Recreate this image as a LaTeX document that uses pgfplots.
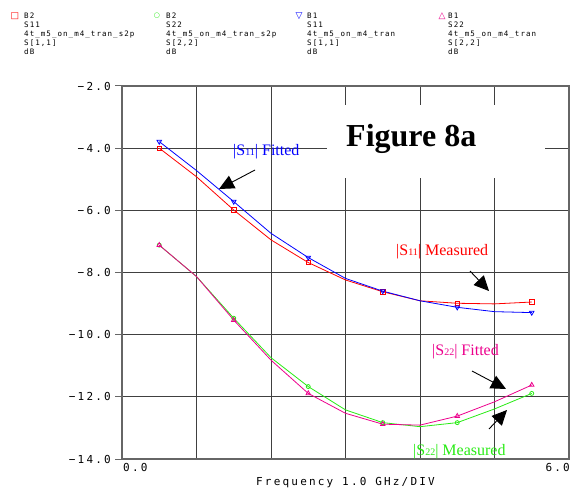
\documentclass[border=0pt]{standalone}
\usepackage{fontspec}
\usepackage{pgfplots}
\pgfplotsset{compat=1.18}
\usetikzlibrary{arrows.meta}
\setmainfont{Liberation Serif}
\newfontfamily\monof[LetterSpace=20]{DejaVu Sans Mono}
\newfontfamily\legf[LetterSpace=14]{DejaVu Sans Mono}
\newfontfamily\symf{DejaVu Sans}
\definecolor{lime}{RGB}{40,235,20}
\newcommand{\sub}[1]{{\fontsize{10}{10}\selectfont #1}}
\begin{document}
\begin{tikzpicture}[x=1pt,y=1pt]
\begin{axis}[
  at={(122pt,31pt)}, anchor=south west,
  scale only axis, width=447pt, height=373pt,
  xmin=0, xmax=6, ymin=-14, ymax=-2,
  xtick={0,1,...,6}, xticklabels={},
  ytick={-14,-12,...,-2},
  yticklabels={−14.0,−12.0,−10.0,−8.0,−6.0,−4.0,−2.0},
  yticklabel style={font=\monof\fontsize{11}{12}\selectfont, inner sep=0pt, anchor=east, xshift=-4pt},
  tick align=outside, tick pos=left,
  xtick style={draw=none},
  major tick length=7pt,
  ytick style={black!60, line width=1pt},
  grid=major, major grid style={black!75, line width=0.9pt},
  axis line style={black!60, line width=1.5pt},
]
\addplot[red, line width=0.8pt, mark=square, mark size=2.2pt, mark repeat=2, mark phase=1] coordinates {
 (0.5,-4.00) (1.0,-4.92) (1.5,-5.99) (2.0,-6.95) (2.5,-7.68) (3.0,-8.24)
 (3.5,-8.62) (4.0,-8.91) (4.5,-8.99) (5.0,-9.01) (5.5,-8.95)};
\addplot[blue, line width=0.8pt, mark=triangle, mark size=2.6pt, mark options={rotate=180}, mark repeat=2, mark phase=1] coordinates {
 (0.5,-3.79) (1.0,-4.72) (1.5,-5.72) (2.0,-6.74) (2.5,-7.52) (3.0,-8.19)
 (3.5,-8.60) (4.0,-8.91) (4.5,-9.12) (5.0,-9.26) (5.5,-9.29)};
\addplot[lime, line width=0.8pt, mark=o, mark size=2pt, mark repeat=2, mark phase=1] coordinates {
 (0.5,-7.12) (1.0,-8.13) (1.5,-9.47) (2.0,-10.74) (2.5,-11.67) (3.0,-12.42)
 (3.5,-12.83) (4.0,-12.96) (4.5,-12.83) (5.0,-12.39) (5.5,-11.89)};
\addplot[magenta, line width=0.8pt, mark=triangle, mark size=2.6pt, mark repeat=2, mark phase=1] coordinates {
 (0.5,-7.12) (1.0,-8.13) (1.5,-9.53) (2.0,-10.82) (2.5,-11.89) (3.0,-12.53)
 (3.5,-12.88) (4.0,-12.91) (4.5,-12.62) (5.0,-12.16) (5.5,-11.62)};
\end{axis}
% x tick labels
\node[anchor=north west, inner sep=0pt, font=\monof\fontsize{11}{12}\selectfont] at (123,27) {0.0};
\node[anchor=north east, inner sep=0pt, font=\monof\fontsize{11}{12}\selectfont] at (570,27) {6.0};
% white box behind title
\fill[white] (327,312) rectangle (545,385);
\node[anchor=base west, inner sep=0pt, font=\fontsize{32}{36}\selectfont\bfseries] at (346,343) {Figure 8a};
% annotations
\node[anchor=base west, inner sep=0pt, blue, font=\fontsize{16}{18}\selectfont] at (233,334) {|S\sub{11}| Fitted};
\node[anchor=base west, inner sep=0pt, red, font=\fontsize{16}{18}\selectfont] at (396,234) {|S\sub{11}| Measured};
\node[anchor=base west, inner sep=0pt, magenta, font=\fontsize{16}{18}\selectfont] at (432,134) {|S\sub{22}| Fitted};
\node[anchor=base west, inner sep=0pt, lime, font=\fontsize{16}{18}\selectfont] at (413,35) {|S\sub{22}| Measured};
\draw[black, line width=0.9pt, -{Triangle[length=15pt,width=14pt]}] (255,320) -- (219,301);
\draw[black, line width=0.9pt, -{Triangle[length=15pt,width=14pt]}] (470,219) -- (489,199);
\draw[black, line width=0.9pt, -{Triangle[length=15pt,width=14pt]}] (472,119) -- (506,101);
\draw[black, line width=0.9pt, -{Triangle[length=15pt,width=14pt]}] (489,61) -- (507,80);
% x label
\node[inner sep=0pt, font=\monof\fontsize{11}{12}\selectfont] at (345.5,7) {Frequency 1.0 GHz/DIV};
% top legend
\node[red, font=\symf\fontsize{9}{9}\selectfont, inner sep=0pt] at (15,474) {□};
\node[lime, font=\symf\fontsize{7}{7}\selectfont, inner sep=0pt] at (157,474) {○};
\node[blue, font=\symf\fontsize{9}{9}\selectfont, inner sep=0pt] at (299,474) {▽};
\node[magenta, font=\symf\fontsize{9}{9}\selectfont, inner sep=0pt] at (442,474) {△};
\node[anchor=north west, inner sep=0pt, align=left, font=\legf\fontsize{7.5}{9}\selectfont] at (24,477) {B2\\S11\\4t\_m5\_on\_m4\_tran\_s2p\\S[1,1]\\dB};
\node[anchor=north west, inner sep=0pt, align=left, font=\legf\fontsize{7.5}{9}\selectfont] at (166,477) {B2\\S22\\4t\_m5\_on\_m4\_tran\_s2p\\S[2,2]\\dB};
\node[anchor=north west, inner sep=0pt, align=left, font=\legf\fontsize{7.5}{9}\selectfont] at (307,477) {B1\\S11\\4t\_m5\_on\_m4\_tran\\S[1,1]\\dB};
\node[anchor=north west, inner sep=0pt, align=left, font=\legf\fontsize{7.5}{9}\selectfont] at (448,477) {B1\\S22\\4t\_m5\_on\_m4\_tran\\S[2,2]\\dB};
\pgfresetboundingbox
\useasboundingbox (0,0) rectangle (570,490);
\end{tikzpicture}
\end{document}
